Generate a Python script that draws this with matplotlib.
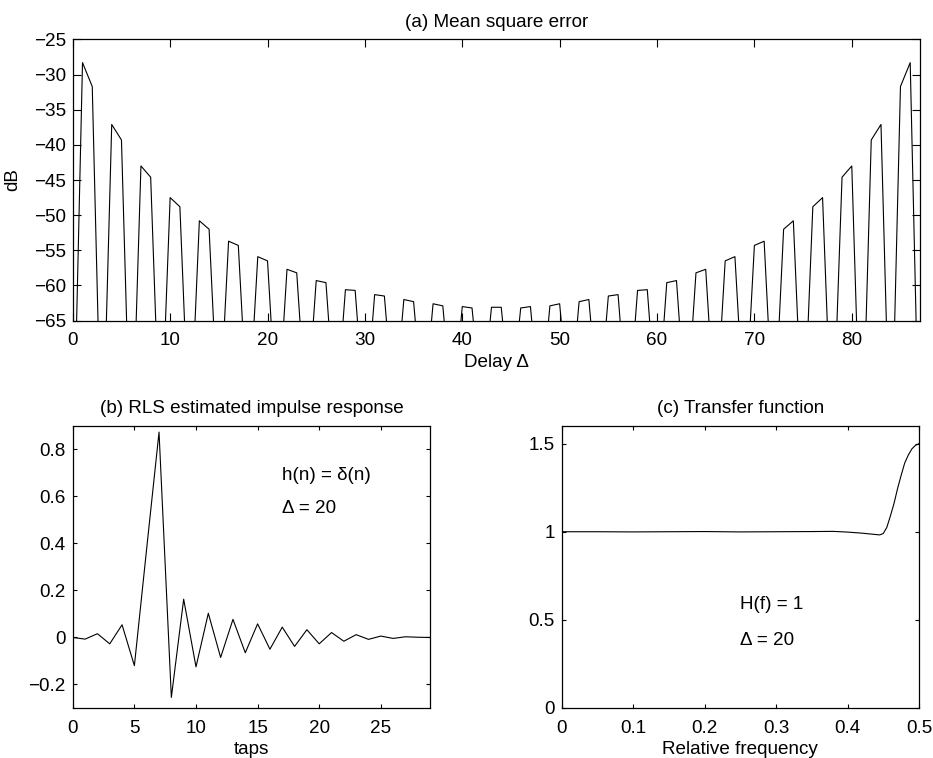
import numpy as np
import matplotlib
matplotlib.use("Agg")
import matplotlib.pyplot as plt
from matplotlib.ticker import FuncFormatter

FS = 13.6
plt.rcParams['font.family'] = ['Liberation Sans', 'DejaVu Sans']
plt.rcParams['font.size'] = FS
plt.rcParams['axes.linewidth'] = 0.9

# (a) Mean square error versus delay (dB)
delay = np.arange(88)
mse_db = [
    -89, -28.3, -31.7, -88, -37.1, -39.3, -88, -43.0, -44.6, -84,
    -47.5, -48.8, -83, -50.8, -52.0, -81, -53.7, -54.3, -80, -55.9,
    -56.5, -80, -57.7, -58.2, -79, -59.3, -59.6, -79, -60.6, -60.7,
    -79, -61.3, -61.5, -78, -62.0, -62.3, -78, -62.6, -62.9, -78,
    -63.0, -63.2, -77, -63.1, -63.1, -77, -63.2, -63.0, -78, -62.9,
    -62.6, -78, -62.3, -62.0, -78, -61.5, -61.3, -79, -60.7, -60.6,
    -79, -59.6, -59.3, -79, -58.2, -57.7, -80, -56.5, -55.9, -80,
    -54.3, -53.7, -81, -52.0, -50.8, -83, -48.8, -47.5, -84, -44.6,
    -43.0, -88, -39.3, -37.1, -88, -31.7, -28.3, -89,
]

# (b) RLS estimated impulse response
taps = np.arange(30)
h_est = [
    0.0, -0.007, 0.016, -0.027, 0.054, -0.12, 0.38, 0.874, -0.255, 0.163,
    -0.125, 0.103, -0.085, 0.077, -0.065, 0.058, -0.05, 0.044, -0.038, 0.033,
    -0.027, 0.021, -0.016, 0.012, -0.008, 0.006, -0.004, 0.003, 0.001, 0.0,
]

# (c) Transfer function magnitude
freq = [0.0, 0.05, 0.1, 0.15, 0.2, 0.25, 0.3, 0.35, 0.38, 0.40, 0.41, 0.42,
        0.43, 0.44, 0.445, 0.45, 0.455, 0.46, 0.465, 0.47, 0.475, 0.48,
        0.485, 0.49, 0.495, 0.5]
h_mag = [1.0, 1.0, 0.999, 1.0, 1.001, 0.999, 1.0, 1.001, 1.002, 0.998, 0.995,
         0.992, 0.988, 0.984, 0.982, 0.99, 1.025, 1.09, 1.16, 1.245, 1.32,
         1.39, 1.435, 1.47, 1.49, 1.5]

fig = plt.figure(figsize=(9.33, 7.58), dpi=100)

def style(ax, ticklen):
    ax.tick_params(direction='in', top=True, right=True, length=ticklen,
                   width=0.8, labelsize=FS)
    ax.tick_params(axis='x', pad=8.5)
    ax.tick_params(axis='y', pad=5)

def plain(v, pos):
    s = ('%g' % v)
    return s.replace('-', '\u2212')

# Panel (a)
ax1 = fig.add_axes([0.078, 0.577, 0.908, 0.371])
ax1.plot(delay, mse_db, color='black', lw=0.8)
ax1.set_xlim(0, 87)
ax1.set_ylim(-65, -25)
ax1.set_xticks(np.arange(0, 81, 10))
ax1.set_yticks(np.arange(-65, -24, 5))
ax1.yaxis.set_major_formatter(FuncFormatter(plain))
style(ax1, 6)
ax1.set_title('(a) Mean square error', fontsize=FS, pad=9)
ax1.set_xlabel('Delay \u0394', labelpad=3)
ax1.set_ylabel('dB', labelpad=9)

# Panel (b)
ax2 = fig.add_axes([0.078, 0.066, 0.383, 0.372])
ax2.plot(taps, h_est, color='black', lw=0.8)
ax2.set_xlim(0, 29)
ax2.set_ylim(-0.3, 0.9)
ax2.set_xticks(np.arange(0, 26, 5))
ax2.set_yticks([-0.2, 0, 0.2, 0.4, 0.6, 0.8])
ax2.yaxis.set_major_formatter(FuncFormatter(plain))
style(ax2, 3)
ax2.set_title('(b) RLS estimated impulse response', fontsize=FS, pad=9)
ax2.set_xlabel('taps', labelpad=3)
ax2.text(17, 0.69, 'h(n) = \u03b4(n)', fontsize=FS, va='center', ha='left')
ax2.text(17, 0.55, '\u0394 = 20', fontsize=FS, va='center', ha='left')

# Panel (c)
ax3 = fig.add_axes([0.602, 0.066, 0.383, 0.372])
ax3.plot(freq, h_mag, color='black', lw=0.8)
ax3.set_xlim(0, 0.5)
ax3.set_ylim(0, 1.6)
ax3.set_xticks(np.arange(0, 0.51, 0.1))
ax3.set_yticks([0, 0.5, 1, 1.5])
ax3.xaxis.set_major_formatter(FuncFormatter(plain))
ax3.yaxis.set_major_formatter(FuncFormatter(plain))
style(ax3, 3)
ax3.set_title('(c) Transfer function', fontsize=FS, pad=9)
ax3.set_xlabel('Relative frequency', labelpad=3)
ax3.text(0.25, 0.588, 'H(f) = 1', fontsize=FS, va='center', ha='left')
ax3.text(0.25, 0.383, '\u0394 = 20', fontsize=FS, va='center', ha='left')

fig.savefig('out.png', dpi=100)
